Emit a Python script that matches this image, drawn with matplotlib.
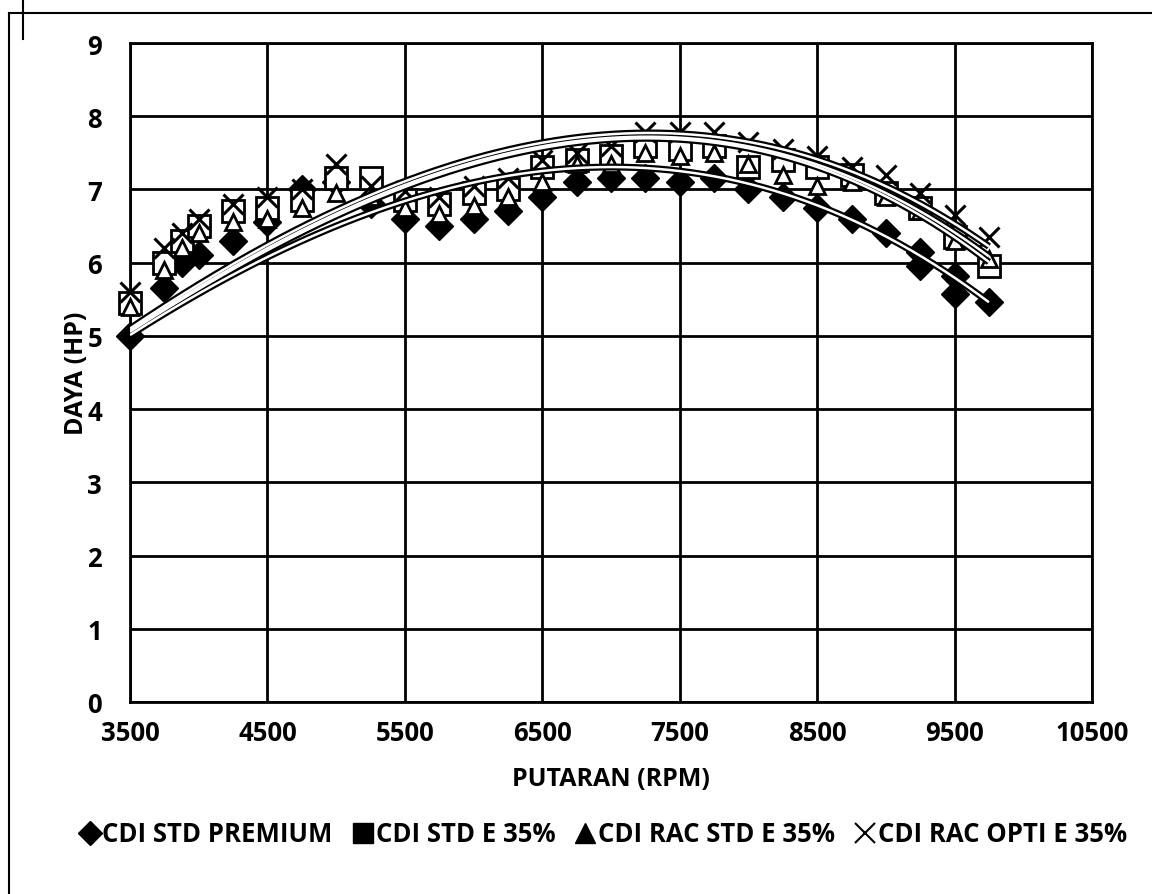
import numpy as np
import matplotlib
matplotlib.use("Agg")
import matplotlib.pyplot as plt
from matplotlib.lines import Line2D

# ---- data ----
rpm = [3500, 3750, 3875, 4000, 4250, 4500, 4750, 5000, 5250, 5500, 5750, 6000, 6250,
       6500, 6750, 7000, 7250, 7500, 7750, 8000, 8250, 8500, 8750, 9000, 9250, 9500, 9750]
rpm_premium = rpm[:25] + [9250, 9500, 9500, 9750]
std_premium = [5.0, 5.65, 6.0, 6.1, 6.3, 6.55, 7.0, 7.1, 6.8, 6.6, 6.5, 6.6, 6.7,
               6.9, 7.1, 7.15, 7.15, 7.1, 7.15, 7.0, 6.9, 6.75, 6.6, 6.4, 6.15, 5.95, 5.82, 5.57, 5.46]
std_e35 = [5.45, 6.0, 6.3, 6.5, 6.7, 6.75, 6.85, 7.15, 7.15, 6.85, 6.8, 6.95, 7.0,
           7.3, 7.4, 7.45, 7.6, 7.55, 7.6, 7.3, 7.4, 7.3, 7.2, 6.95, 6.75, 6.35, 5.95]
rac_std_e35 = [5.4, 5.9, 6.2, 6.4, 6.55, 6.6, 6.75, 6.95, 6.9, 6.75, 6.67, 6.78, 6.9,
               7.1, 7.35, 7.35, 7.5, 7.45, 7.5, 7.35, 7.2, 7.05, 7.1, 6.9, 6.7, 6.3, 6.05]
rac_opti_e35 = [5.6, 6.2, 6.4, 6.6, 6.8, 6.9, 7.0, 7.35, 7.05, 6.98, 6.9, 7.05, 7.15,
                7.4, 7.5, 7.6, 7.78, 7.78, 7.78, 7.65, 7.55, 7.45, 7.3, 7.2, 6.95, 6.65, 6.35]

# trendline values at these rpm
trend_rpm = [3500, 4500, 5500, 6500, 7250, 8000, 8750, 9750]
trend_premium = [5.0, 6.1, 6.85, 7.22, 7.28, 7.1, 6.6, 5.45]
trend_std_e35 = [5.05, 6.18, 7.04, 7.55, 7.7, 7.55, 7.15, 6.0]
trend_rac_std_e35 = [5.07, 6.2, 7.07, 7.58, 7.72, 7.58, 7.18, 6.08]
trend_rac_opti_e35 = [5.1, 6.24, 7.12, 7.63, 7.77, 7.65, 7.25, 6.22]

labels = ["CDI STD PREMIUM", "CDI STD E 35%", "CDI RAC STD E 35%", "CDI RAC OPTI E 35%"]
x_ticks = [3500, 4500, 5500, 6500, 7500, 8500, 9500, 10500]
y_ticks = [0, 1, 2, 3, 4, 5, 6, 7, 8, 9]

FONT = ['Open Sans', 'DejaVu Sans']
plt.rcParams['font.family'] = FONT

fig = plt.figure(figsize=(11.52, 8.95), dpi=100)
ax = fig.add_axes([130/1152, 1-703/895, (1092-130)/1152, (703-44)/895])

ax.set_xlim(3500, 10500)
ax.set_ylim(0, 9)
ax.set_xticks(x_ticks)
ax.set_yticks(y_ticks)
ax.grid(True, color='black', linewidth=2)
ax.set_axisbelow(True)
for s in ax.spines.values():
    s.set_color('black')
    s.set_linewidth(2)
ax.tick_params(length=0, labelsize=18.5)
ax.tick_params(axis='x', pad=12)
ax.tick_params(axis='y', pad=20)
for lab in ax.get_xticklabels() + ax.get_yticklabels():
    lab.set_fontweight('bold')

series = [
    (rpm_premium, std_premium, dict(marker='D', ms=14, mfc='black', mec='black')),
    (rpm, std_e35, dict(marker='s', ms=16, mfc='white', mec='black', mew=2)),
    (rpm, rac_std_e35, dict(marker='^', ms=12, mfc='white', mec='black', mew=2)),
    (rpm, rac_opti_e35, dict(marker='x', ms=15, mec='black', mew=2.2)),
]
for xs, ys, st in series:
    ax.plot(xs, ys, linestyle='none', zorder=3, clip_on=False, **st)

for ty in [trend_premium, trend_std_e35, trend_rac_std_e35, trend_rac_opti_e35]:
    c = np.polyfit(trend_rpm, ty, 3)
    xx = np.linspace(trend_rpm[0], trend_rpm[-1], 300)
    yy = np.polyval(c, xx)
    ax.plot(xx, yy, color='black', lw=5, zorder=4, solid_capstyle='butt')
    ax.plot(xx, yy, color='white', lw=1.8, zorder=5, solid_capstyle='butt')

ax.set_xlabel("PUTARAN (RPM)", fontsize=18, fontweight='bold')
ax.set_ylabel("DAYA (HP)", fontsize=18, fontweight='bold')
ax.xaxis.set_label_coords(0.5, (703-767)/659)
ax.yaxis.set_label_coords((89-130)/962, 0.5)

handles = [
    Line2D([], [], linestyle='none', marker='D', ms=12, mfc='black', mec='black'),
    Line2D([], [], linestyle='none', marker='s', ms=14, mfc='black', mec='black'),
    Line2D([], [], linestyle='none', marker='^', ms=14, mfc='black', mec='black'),
    Line2D([], [], linestyle='none', marker='x', ms=14, mec='black', mew=1.5),
]
fig.legend(handles, labels, loc='center', bbox_to_anchor=(0.524, 1-835/895), ncol=4,
           frameon=False, handlelength=0.75, handletextpad=0.12,
           columnspacing=0.8, prop={'family': FONT, 'size': 18.5, 'weight': 'bold'})

# outer frame lines of the scanned figure
fig.add_artist(Line2D([9/1152, 1], [1-14/895, 1-14/895], color='black', lw=1.5, transform=fig.transFigure))
fig.add_artist(Line2D([9/1152, 9/1152], [0, 1-14/895], color='black', lw=1.5, transform=fig.transFigure))
fig.add_artist(Line2D([23/1152, 23/1152], [1-40/895, 1], color='black', lw=1.5, transform=fig.transFigure))

fig.savefig("out.png", dpi=100)
